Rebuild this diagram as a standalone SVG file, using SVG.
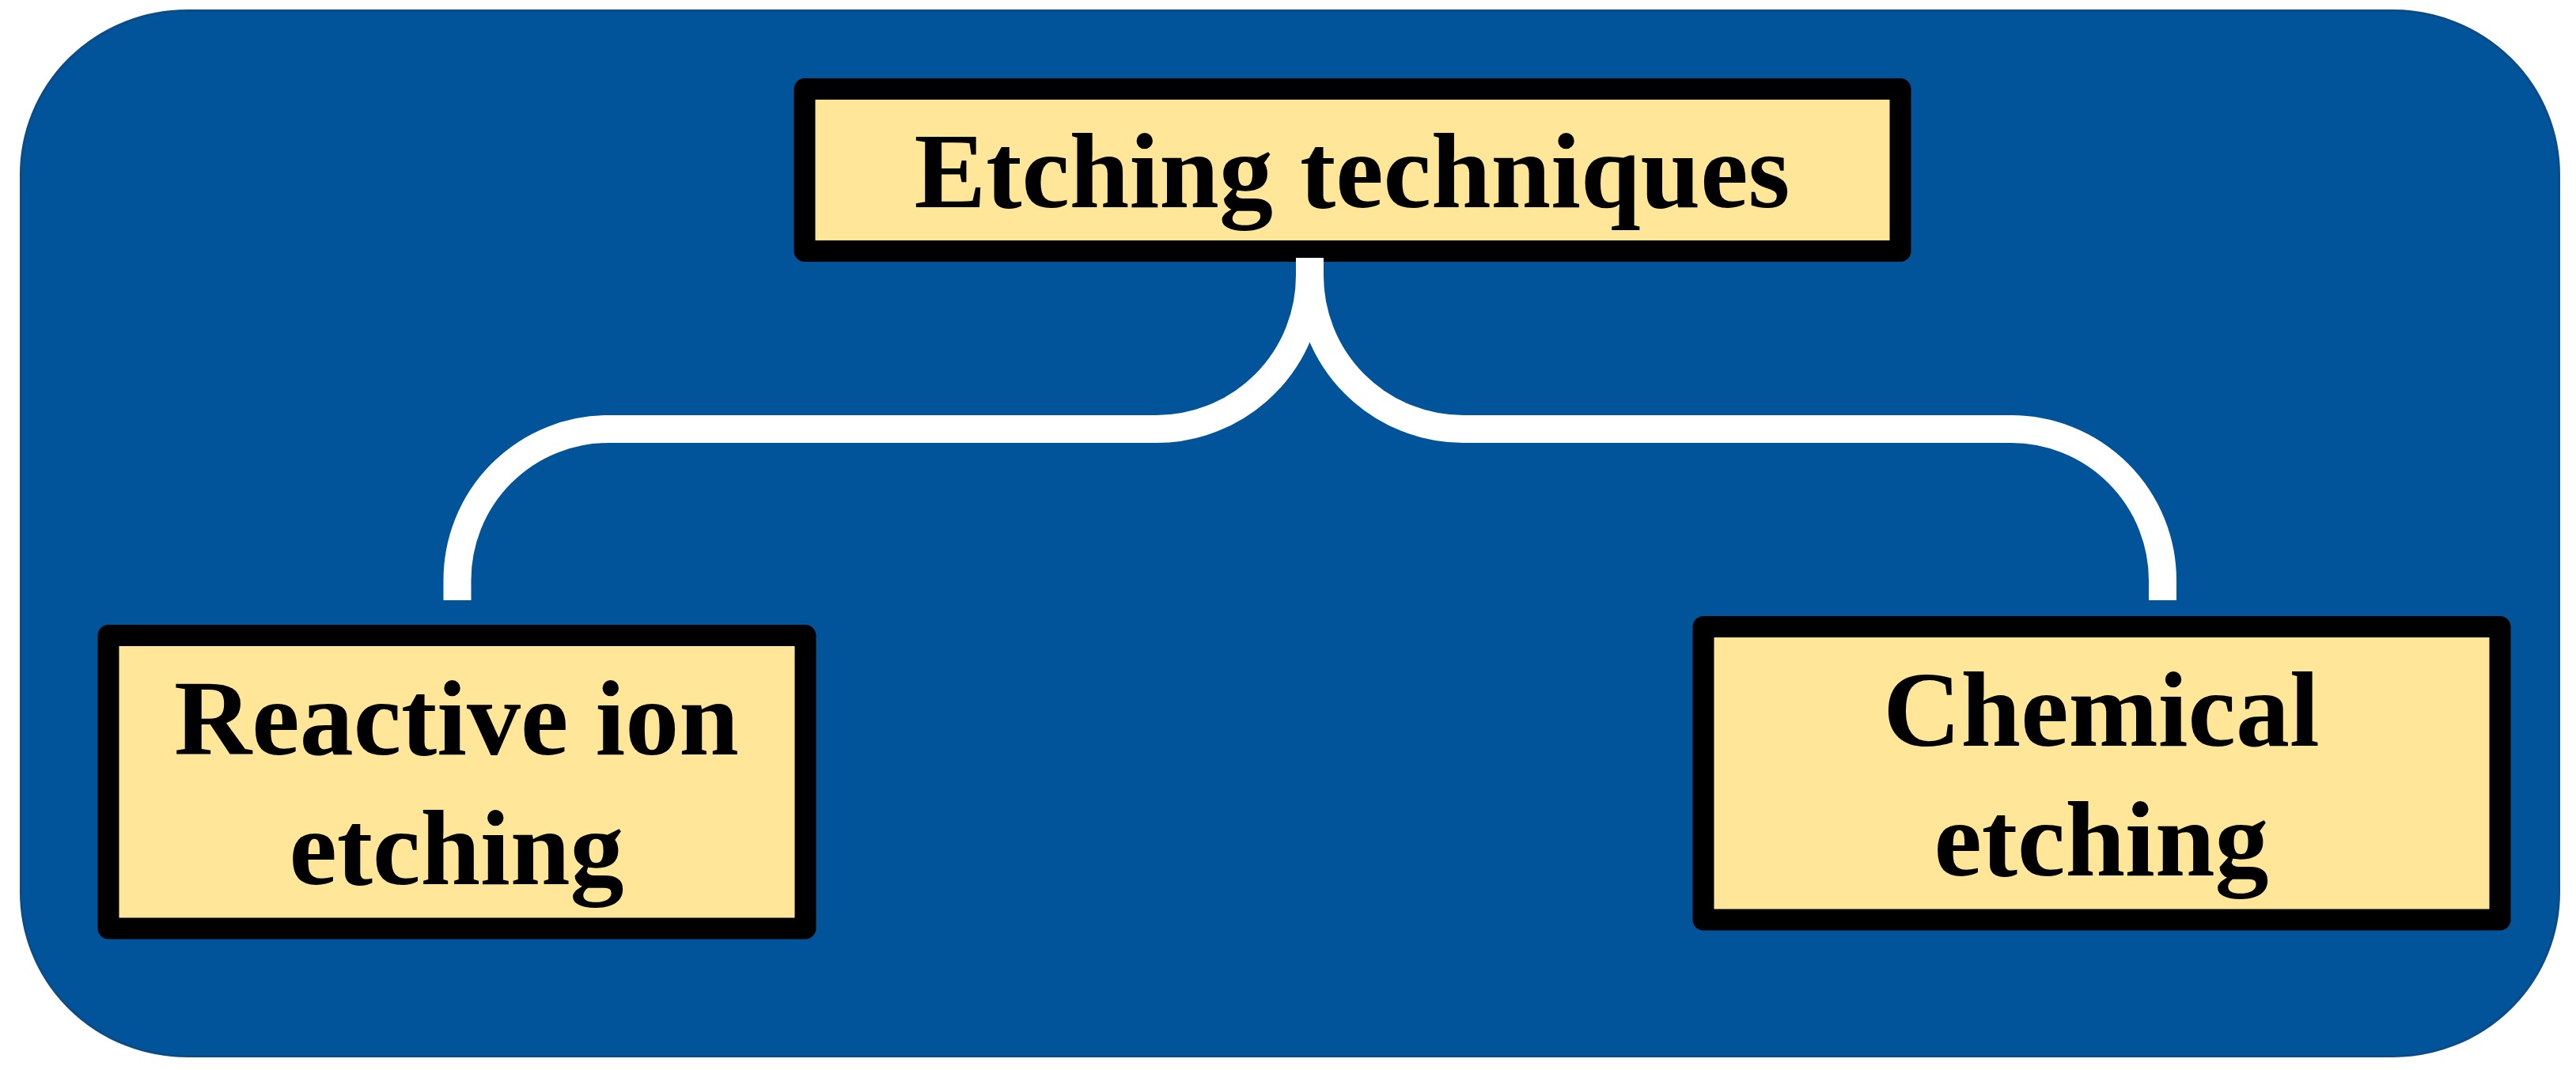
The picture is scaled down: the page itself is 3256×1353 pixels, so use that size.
<svg xmlns="http://www.w3.org/2000/svg" width="3256" height="1353" viewBox="0 0 3256 1353">
  <style>
    .box { fill: #FFE699; stroke: #000000; stroke-width: 27; stroke-linejoin: round; }
    .label { font-family: "Liberation Serif", "Times New Roman", serif; font-weight: bold; font-size: 136px; fill: #000000; text-anchor: middle; }
    .conn { fill: none; stroke: #FFFFFF; stroke-width: 35; stroke-linecap: butt; }
  </style>
  <rect id="background" x="26.5" y="13.5" width="3208" height="1322" rx="210" ry="207" fill="#02549A" stroke="#0B4C88" stroke-width="3"/>
  <g id="node-etching-techniques">
    <rect class="box" x="1017" y="112.5" width="1385" height="205"/>
    <text class="label" x="1709" y="262">Etching techniques</text>
  </g>
  <g id="node-reactive-ion-etching">
    <rect class="box" x="137" y="803.5" width="881" height="370.5"/>
    <text class="label" x="577" y="954">Reactive ion</text>
    <text class="label" x="577" y="1118">etching</text>
  </g>
  <g id="node-chemical-etching">
    <rect class="box" x="2153" y="792.5" width="1007" height="370.5"/>
    <text class="label" x="2656" y="943">Chemical</text>
    <text class="label" x="2656" y="1107">etching</text>
  </g>
  <g id="connectors">
    <path class="conn" d="M1655.5 326 V348 A194 194 0 0 1 1461.5 542.5 H769 A191 191 0 0 0 578 733.5 V759"/>
    <path class="conn" d="M1655.5 326 V348 A194 194 0 0 0 1849.5 542.5 H2542 A191.5 191.5 0 0 1 2733.5 734 V759"/>
  </g>
</svg>
